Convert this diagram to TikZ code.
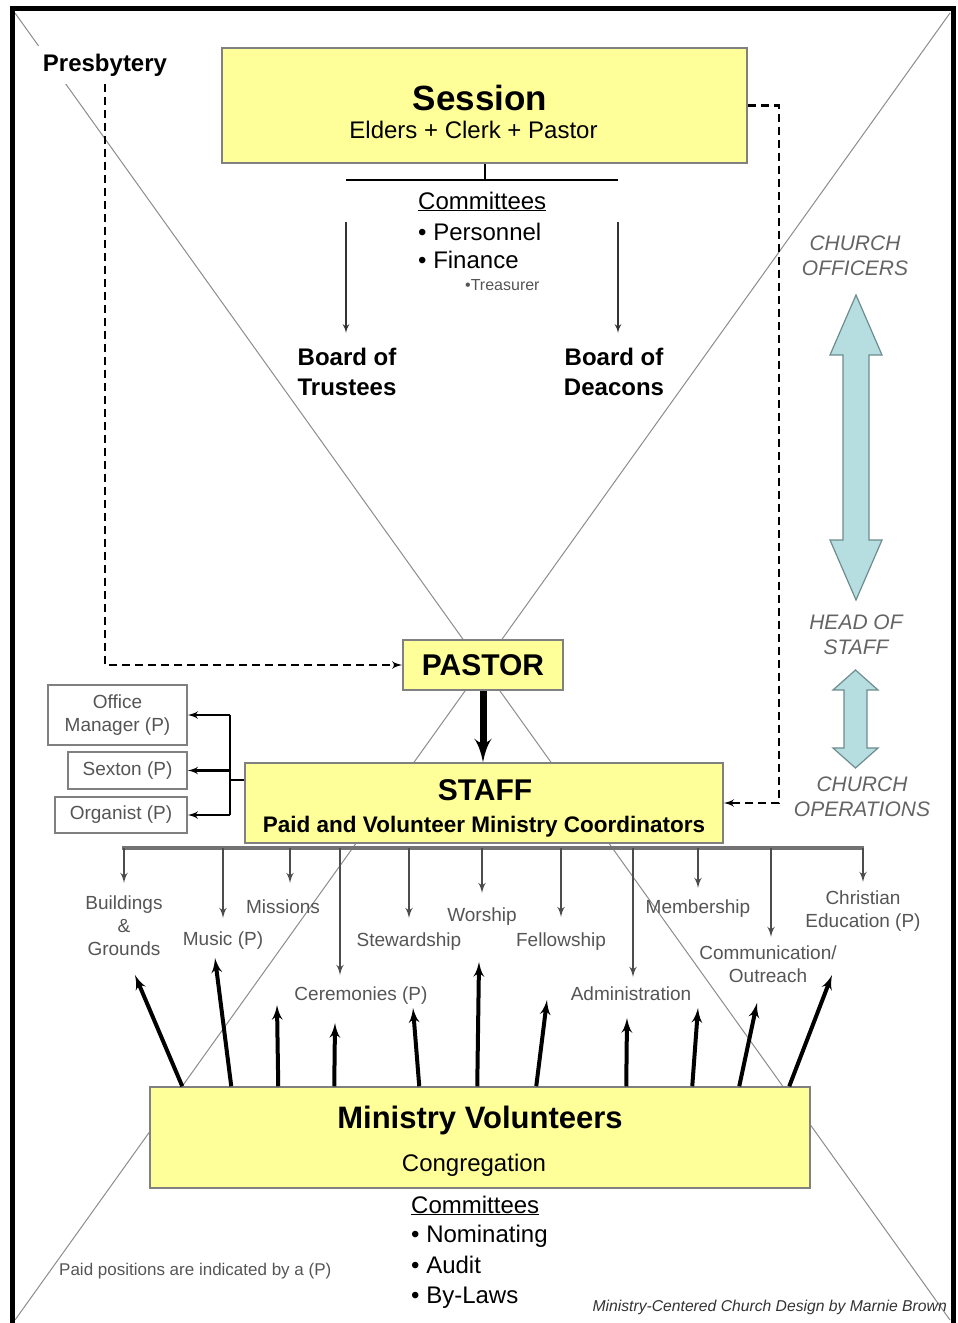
\documentclass[tikz,border=0pt]{standalone}
\usepackage{fontspec}
\setmainfont{Liberation Sans}
\usepackage{tikz}
\usetikzlibrary{arrows}
\definecolor{boxyellow}{RGB}{255,255,153}
\definecolor{boxline}{RGB}{128,128,128}
\definecolor{labelgray}{RGB}{85,85,85}
\definecolor{officergray}{RGB}{100,100,100}
\definecolor{arrowblue}{RGB}{182,221,224}
\definecolor{arrowedge}{RGB}{110,140,142}
\definecolor{crossgray}{RGB}{140,140,140}
\tikzstyle{box}=[draw=boxline,fill=boxyellow,line width=1.5pt,inner sep=0pt]
\tikzstyle{post}=[draw=boxline,fill=white,line width=1.5pt,inner sep=0pt,align=center,text=labelgray,font=\fontsize{19}{23}\selectfont]
\tikzstyle{ministry}=[inner sep=0pt,text=labelgray,font=\fontsize{19}{23}\selectfont]
\tikzstyle{officer}=[inner sep=0pt,text=officergray,font=\fontsize{21}{25}\selectfont\itshape,align=center]
\tikzstyle{board}=[inner sep=0pt,font=\fontsize{24}{30}\selectfont\bfseries,align=center]
\tikzstyle{plain}=[inner sep=0pt,font=\fontsize{24}{29}\selectfont]
\tikzstyle{crossline}=[draw=crossgray,line width=1pt]
\tikzstyle{line}=[draw=black!80,-latex',line width=2pt]
\tikzstyle{dline}=[draw,-latex',line width=2.5pt,dash pattern=on 8pt off 5pt]
\tikzstyle{drop}=[draw=black!70,-latex',line width=2.5pt]
\tikzstyle{push}=[draw,-latex',line width=4pt]
\tikzstyle{staffbar}=[draw=black!55,line width=4.5pt]
\tikzstyle{blockarrow}=[draw=arrowedge,fill=arrowblue,line width=1.2pt]

\begin{document}
\begin{tikzpicture}[x=1pt,y=-1pt]
  \useasboundingbox (0,0) rectangle (958,1323);
  % cross
  \coordinate (tl) at (15,13);
  \coordinate (tr) at (950,13);
  \coordinate (bl) at (15,1320);
  \coordinate (br) at (950,1320);
  \draw[crossline] (tl) -- (br);
  \draw[crossline] (tr) -- (bl);
  % frame
  \draw[line width=5pt] (12,1330) -- (12,8) -- (953.5,8) -- (953.5,1330);
  % boxes
  \node[box,minimum width=525pt,minimum height=115pt] (session) at (484.5,105.5) {};
  \node[box,minimum width=160pt,minimum height=50pt,font=\fontsize{30}{36}\selectfont\bfseries] (pastor) at (483,665) {PASTOR};
  \node[box,minimum width=478pt,minimum height=80pt] (staff) at (484,803) {};
  \node[box,minimum width=660pt,minimum height=101pt] (mv) at (480,1137.5) {};
  \node[anchor=base,inner sep=0pt,font=\fontsize{35}{40}\selectfont\bfseries] (sessiontitle) at (480,110) {Session};
  \node[plain,anchor=base] (sessionsub) at (473.5,138) {Elders + Clerk + Pastor};
  \node[anchor=base,inner sep=0pt,font=\fontsize{30}{36}\selectfont\bfseries] (stafftitle) at (485,800) {STAFF};
  \node[anchor=base,inner sep=0pt,font=\fontsize{22.5}{27}\selectfont\bfseries] (staffsub) at (484,832) {Paid and Volunteer Ministry Coordinators};
  \node[anchor=base,inner sep=0pt,font=\fontsize{31}{36}\selectfont\bfseries] (mvtitle) at (480,1128) {Ministry Volunteers};
  \node[plain,anchor=base] (mvsub) at (474,1171) {Congregation};
  % presbytery
  \node[anchor=base,fill=white,inner sep=8pt,font=\fontsize{24}{29}\selectfont\bfseries] (presb) at (105,71) {Presbytery};
  \draw[dline] (presb.south) |- (pastor.west);
  \draw[dline] (session.east) -- ++(31,0) |- (staff.east);
  % session committees
  \node[plain,anchor=base west] (scomm) at (418,209) {\underline{Committees}};
  \node[plain,anchor=base west] (personnel) at (418,240) {\textbullet\ Personnel};
  \node[plain,anchor=base west] (finance) at (418,268) {\textbullet\ Finance};
  \node[anchor=base west,inner sep=0pt,text=labelgray,font=\fontsize{16}{19}\selectfont] (treas) at (465,290) {\textbullet Treasurer};
  \coordinate (cl) at (346,180);
  \coordinate (cr) at (618,180);
  \draw[line width=2pt] (session.south) -- (session.south |- cl);
  \draw[line width=2pt] (cl) -- (cr);
  % boards
  \node[board,anchor=north] (trustees) at (347,348) {Board of\\Trustees};
  \node[board,anchor=north] (deacons) at (614,348) {Board of\\Deacons};
  \coordinate (tstart) at (346,222);
  \coordinate (dstart) at (618,222);
  \draw[line,shorten >=15pt] (tstart) -- (tstart |- trustees.north);
  \draw[line,shorten >=15pt] (dstart) -- (dstart |- deacons.north);
  % officers side
  \node[officer,anchor=north] (officers) at (855,236) {CHURCH\\OFFICERS};
  \node[officer,anchor=north] (headstaff) at (856,615) {HEAD OF\\STAFF};
  \node[officer,anchor=north] (operations) at (862,777) {CHURCH\\OPERATIONS};
  \draw[blockarrow] (856,295) -- (882,355) -- (869,355) -- (869,540) -- (882,540) -- (856,600)
    -- (830,540) -- (843,540) -- (843,355) -- (830,355) -- cycle;
  \draw[blockarrow] (855.5,670) -- (878,690) -- (867,690) -- (867,748) -- (878,748) -- (855.5,768)
    -- (833,748) -- (844,748) -- (844,690) -- (833,690) -- cycle;
  % pastor to staff
  \draw[draw,-latex',line width=7pt] (pastor.south) -- (pastor.south |- staff.north);
  % paid posts
  \node[post,minimum width=139pt,minimum height=60pt] (office) at (117.5,715) {Office\\Manager (P)};
  \node[post,minimum width=119pt,minimum height=37pt] (sexton) at (127.5,770.5) {Sexton (P)};
  \node[post,minimum width=132pt,minimum height=36pt] (organist) at (121,815) {Organist (P)};
  \coordinate (sj) at (230,780);
  \draw[line width=2.5pt] (staff.west |- sj) -- (sj);
  \draw[line width=2.5pt] (sj |- office.east) -- (sj |- organist.east);
  \draw[draw,-latex',line width=2.5pt] (sj |- office.east) -- (office.east);
  \draw[draw,-latex',line width=2.5pt] (sj |- sexton.east) -- (sexton.east);
  \draw[draw,-latex',line width=2.5pt] (sj |- organist.east) -- (organist.east);
  % ministries
  \coordinate (barl) at (122,848);
  \coordinate (barr) at (864,848);
  \draw[staffbar] (barl) -- (barr);
  \node[ministry,align=center,anchor=north] (bldg) at (124,896) {Buildings\\\&\\Grounds};
  \node[ministry,anchor=base] (music) at (223,945) {Music (P)};
  \node[ministry,anchor=base] (missions) at (283,913) {Missions};
  \node[ministry,anchor=base] (cerem) at (361,1000) {Ceremonies (P)};
  \node[ministry,anchor=base] (stew) at (409,946) {Stewardship};
  \node[ministry,anchor=base] (worship) at (482,921) {Worship};
  \node[ministry,anchor=base] (fellow) at (561,946) {Fellowship};
  \node[ministry,anchor=base] (admin) at (631,1000) {Administration};
  \node[ministry,anchor=base] (member) at (698,913) {Membership};
  \node[ministry,align=center,anchor=north] (comm) at (768,946) {Communication/\\Outreach};
  \node[ministry,align=center,anchor=north] (christ) at (863,891) {Christian\\Education (P)};
  \coordinate (misstip) at ([xshift=7pt]missions.north);
  \coordinate (certip) at ([xshift=-21pt]cerem.north);
  \coordinate (admintip) at ([xshift=2pt]admin.north);
  \coordinate (commtip) at ([xshift=3pt]comm.north);
  \draw[drop,shorten >=13pt] (bldg.north |- barl) -- (bldg.north);
  \draw[drop,shorten >=13pt] (music.north |- barl) -- (music.north);
  \draw[drop,shorten >=16pt] (misstip |- barl) -- (misstip);
  \draw[drop,shorten >=11pt] (certip |- barl) -- (certip);
  \draw[drop,shorten >=14pt] (stew.north |- barl) -- (stew.north);
  \draw[drop,shorten >=14pt] (worship.north |- barl) -- (worship.north);
  \draw[drop,shorten >=15pt] (fellow.north |- barl) -- (fellow.north);
  \draw[drop,shorten >=9pt] (admintip |- barl) -- (admintip);
  \draw[drop,shorten >=11pt] (member.north |- barl) -- (member.north);
  \draw[drop,shorten >=9pt] (commtip |- barl) -- (commtip);
  \draw[drop,shorten >=9pt] (christ.north |- barl) -- (christ.north);
  % volunteer arrows
  \coordinate (up1) at (135,975);
  \coordinate (up2) at (215,958);
  \coordinate (up3) at (277,1005);
  \coordinate (up4) at (335,1023);
  \coordinate (up5) at (413,1008);
  \coordinate (up6) at (479,962);
  \coordinate (up7) at (547,1000);
  \coordinate (up8) at (627,1018);
  \coordinate (up9) at (698,1008);
  \coordinate (up10) at (757,1003);
  \coordinate (up11) at (832,975);
  \draw[push] ([xshift=33pt]mv.north west) -- (up1);
  \draw[push] ([xshift=82pt]mv.north west) -- (up2);
  \draw[push] ([xshift=129pt]mv.north west) -- (up3);
  \draw[push] ([xshift=185pt]mv.north west) -- (up4);
  \draw[push] ([xshift=270pt]mv.north west) -- (up5);
  \draw[push] ([xshift=328pt]mv.north west) -- (up6);
  \draw[push] ([xshift=387pt]mv.north west) -- (up7);
  \draw[push] ([xshift=477pt]mv.north west) -- (up8);
  \draw[push] ([xshift=543pt]mv.north west) -- (up9);
  \draw[push] ([xshift=590pt]mv.north west) -- (up10);
  \draw[push] ([xshift=640pt]mv.north west) -- (up11);
  % congregation committees
  \node[plain,anchor=base west] (ccomm) at (411,1213) {\underline{Committees}};
  \node[plain,anchor=base west] (nominating) at (411,1242) {\textbullet\ Nominating};
  \node[plain,anchor=base west] (audit) at (411,1273) {\textbullet\ Audit};
  \node[plain,anchor=base west] (bylaws) at (411,1303) {\textbullet\ By-Laws};
  % notes
  \node[anchor=base west,inner sep=0pt,text=labelgray,font=\fontsize{17}{20}\selectfont] (paidnote) at (59,1275) {Paid positions are indicated by a (P)};
  \node[anchor=base east,inner sep=0pt,text=black!80,font=\fontsize{15.7}{19}\selectfont\itshape] (credit) at (947,1311) {Ministry-Centered Church Design by Marnie Brown};
\end{tikzpicture}
\end{document}
